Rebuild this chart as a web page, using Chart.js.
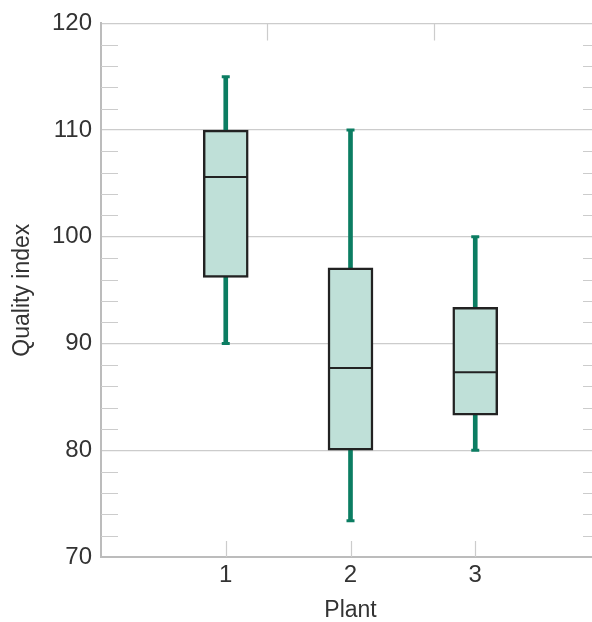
<!DOCTYPE html>
<html>
<head>
<meta charset="utf-8">
<script src="https://cdn.jsdelivr.net/npm/chart.js@4/dist/chart.umd.min.js"></script>
<style>
html,body{margin:0;padding:0;background:#fff;overflow:hidden;}
#wrap{position:absolute;left:0;top:0;width:610px;height:624px;}
#c{width:610px;height:624px;}
</style>
</head>
<body>
<div id="wrap"><canvas id="c" width="610" height="624"></canvas></div>
<script>
// ---- data ----
const plants = [1, 2, 3];
const plantLabels = ['1', '2', '3'];
const whiskerLow = [90, 73.4, 80];
const q1 = [96.2, 80, 83.3];
const median = [105.6, 87.7, 87.3];
const q3 = [110, 97.1, 93.4];
const whiskerHigh = [115, 110, 100];
const yMajorTicks = [70, 80, 90, 100, 110, 120];
const yMinorTicks = [72, 74, 76, 78, 82, 84, 86, 88, 92, 94, 96, 98, 102, 104, 106, 108, 112, 114, 116, 118];

const TEAL = '#0b7d62';
const BOXFILL = '#bfe0d8';
const DARK = '#222222';
const AXIS = '#bcbcbc';
const GRID = '#cccccc';
const FONT = "'Liberation Sans', Arial, sans-serif";

const boxData = plants.map((p, i) => ({x: p, y: [q1[i], q3[i]]}));
const upperWhisker = plants.map((p, i) => ({x: p, y: [q3[i], whiskerHigh[i]]}));
const lowerWhisker = plants.map((p, i) => ({x: p, y: [whiskerLow[i], q1[i]]}));
const medianPts = plants.map((p, i) => ({x: p, y: median[i]}));
const capPts = plants.map((p, i) => ({x: p, y: whiskerHigh[i]})).concat(plants.map((p, i) => ({x: p, y: whiskerLow[i]})));

const innerTicks = {
  id: 'innerTicks',
  afterDatasetsDraw(chart, args, opts) {
    const {ctx, chartArea: a, scales: {x, y}} = chart;
    ctx.save();
    ctx.strokeStyle = GRID;
    ctx.lineWidth = 1.2;
    ctx.beginPath();
    yMinorTicks.forEach(v => {
      const py = Math.round(y.getPixelForValue(v)) + 0.5;
      ctx.moveTo(a.left, py); ctx.lineTo(a.left + 17, py);
      ctx.moveTo(a.right - 17, py); ctx.lineTo(a.right, py);
    });
    plants.forEach(v => {
      const px = Math.round(x.getPixelForValue(v)) + 0.5;
      ctx.moveTo(px, a.bottom); ctx.lineTo(px, a.bottom - 16);
    });
    opts.topTicks.forEach(v => {
      const px = Math.round(x.getPixelForValue(v)) + 0.5;
      ctx.moveTo(px, a.top); ctx.lineTo(px, a.top + 17);
    });
    ctx.stroke();
    ctx.restore();
  }
};

new Chart(document.getElementById('c'), {
  type: 'bar',
  data: {
    datasets: [
      {type: 'bar', data: upperWhisker, backgroundColor: TEAL, borderWidth: 0, barThickness: 4, grouped: false, order: 3},
      {type: 'bar', data: lowerWhisker, backgroundColor: TEAL, borderWidth: 0, barThickness: 4, grouped: false, order: 3},
      {type: 'scatter', data: capPts, pointStyle: 'line', pointRadius: 4, pointBorderWidth: 3, borderColor: TEAL, backgroundColor: TEAL, order: 2},
      {type: 'bar', data: boxData, backgroundColor: BOXFILL, borderColor: DARK, borderWidth: 2.5, borderSkipped: false, barThickness: 45, grouped: false, order: 1},
      {type: 'scatter', data: medianPts, pointStyle: 'line', pointRadius: 21.5, pointBorderWidth: 2, borderColor: DARK, backgroundColor: DARK, order: 0}
    ]
  },
  options: {
    responsive: false,
    animation: false,
    events: [],
    layout: {autoPadding: false, padding: {left: 0, top: 21, right: 10, bottom: 0}},
    plugins: {legend: {display: false}, tooltip: {enabled: false}, innerTicks: {topTicks: [4/3, 8/3]}},
    scales: {
      x: {
        type: 'linear', min: 0, max: 4, offset: false,
        afterBuildTicks: s => { s.ticks = plants.map(v => ({value: v})); },
        afterFit: s => { s.height = 67; s.paddingLeft = 0; s.paddingRight = 0; },
        grid: {display: false, drawTicks: false},
        border: {display: true, color: AXIS, width: 2},
        ticks: {color: '#333', font: {family: FONT, size: 24}, padding: 4, callback: (v) => plantLabels[plants.indexOf(v)]},
        title: {display: true, text: 'Plant', color: '#333', font: {family: FONT, size: 23}, padding: {top: 0, bottom: 0}}
      },
      y: {
        type: 'linear', min: 70, max: 120,
        afterBuildTicks: s => { s.ticks = yMajorTicks.map(v => ({value: v})); },
        afterFit: s => { s.width = 101; },
        grid: {color: GRID, lineWidth: 1.3, drawTicks: false},
        border: {display: true, color: AXIS, width: 2},
        ticks: {color: '#333', font: {family: FONT, size: 24}, padding: 9},
        title: {display: true, text: 'Quality index', color: '#333', font: {family: FONT, size: 23}, padding: {top: 9, bottom: 0}}
      }
    }
  },
  plugins: [innerTicks]
});
</script>
</body>
</html>
